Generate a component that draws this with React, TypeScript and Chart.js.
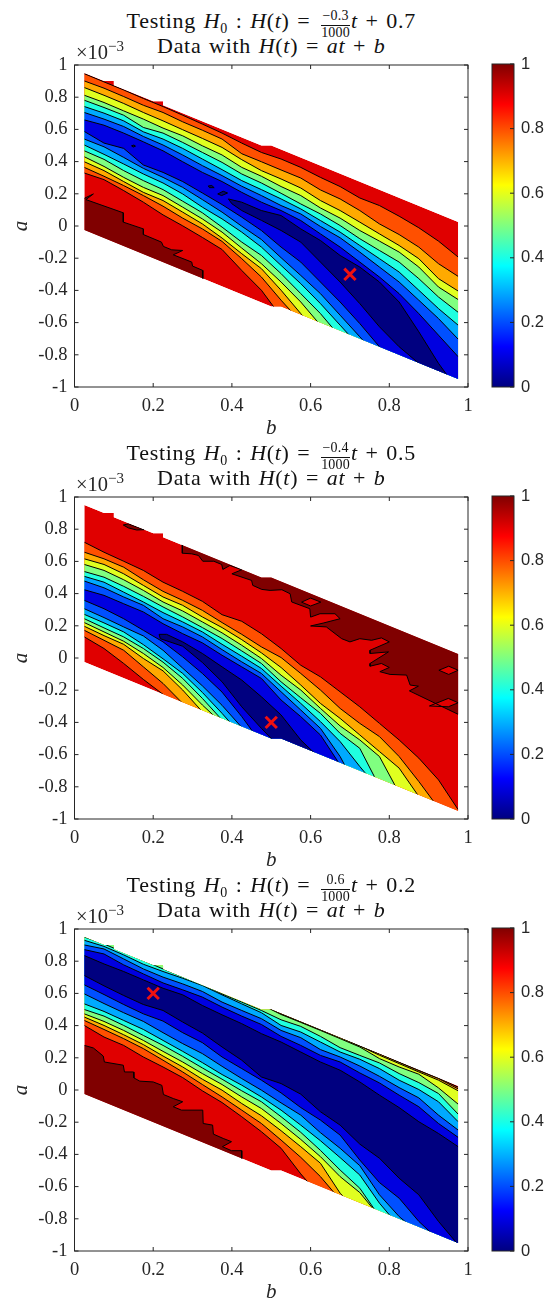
import React, { useEffect, useRef } from "react";
import { Chart, registerables } from "chart.js";

Chart.register(...registerables);

type P = { x: number; y: number };

const SERIF = '"Liberation Serif"';
const INK = "#262626";

// b grid the contour heights are read at
const bGrid = [0.025, 0.075, 0.125, 0.175, 0.225, 0.275, 0.325, 0.375, 0.425, 0.475, 0.525, 0.575, 0.625, 0.675, 0.725, 0.775, 0.825, 0.875, 0.925, 0.975];

// measured region outline (b, a in 1e-3)
const domain = [[0.025, 0.95], [0.075, 0.9], [0.1, 0.9], [0.1, 0.875], [0.2, 0.775], [0.225, 0.775], [0.225, 0.75], [0.475, 0.5], [0.5, 0.5], [0.975, 0.025], [0.975, -0.95], [0.525, -0.5], [0.5, -0.5], [0.025, -0.025]];

// contour levels 0.1 ... 0.9 and the band colours
const bandColors = ["#000080", "#0000e0", "#0050ff", "#00aaff", "#20ffe0", "#80ff80", "#e0ff20", "#ffaa00", "#ff5000"];
const redBand = "#e00000";
const darkRedBand = "#800000";
const jetStops = [[0, "#000080"], [0.125, "#0000ff"], [0.375, "#00ffff"], [0.625, "#ffff00"], [0.875, "#ff0000"], [1, "#800000"]];
const axisTicks = [0, 0.2, 0.4, 0.6, 0.8, 1];

// ---------- panel 1: H0 a=-0.3, b=0.7 ----------
const p1U1 = [[0.391, 0.168], [0.425, 0.148], [0.475, 0.096], [0.525, 0.065], [0.575, -0.018], [0.625, -0.09], [0.675, -0.183], [0.725, -0.255], [0.775, -0.348], [0.825, -0.472], [0.875, -0.657], [0.925, -0.853], [0.975, -1.02]];
const p1D1 = [[0.391, 0.168], [0.4, 0.138], [0.425, 0.096], [0.475, 0.035], [0.525, -0.028], [0.575, -0.1], [0.625, -0.224], [0.675, -0.348], [0.725, -0.482], [0.775, -0.626], [0.825, -0.75], [0.875, -0.853]];
const p1U2 = [0.659, 0.626, 0.577, 0.523, 0.467, 0.399, 0.333, 0.276, 0.209, 0.148, 0.096, 0.034, -0.049, -0.131, -0.224, -0.317, -0.42, -0.544, -0.678, -0.812];
const p1U3 = [0.705, 0.664, 0.618, 0.556, 0.503, 0.441, 0.375, 0.313, 0.247, 0.189, 0.127, 0.075, -0.003, -0.073, -0.162, -0.255, -0.348, -0.461, -0.575, -0.703];
const p1U4 = [0.742, 0.701, 0.653, 0.585, 0.54, 0.482, 0.416, 0.35, 0.282, 0.226, 0.168, 0.106, 0.034, -0.038, -0.121, -0.203, -0.286, -0.399, -0.513, -0.616];
const p1U5 = [0.781, 0.736, 0.688, 0.612, 0.577, 0.519, 0.457, 0.395, 0.323, 0.267, 0.203, 0.137, 0.075, 0.003, -0.079, -0.152, -0.224, -0.327, -0.441, -0.536];
const p1U6 = [0.812, 0.767, 0.715, 0.664, 0.608, 0.56, 0.498, 0.441, 0.364, 0.309, 0.245, 0.189, 0.112, 0.049, -0.028, -0.094, -0.162, -0.255, -0.379, -0.457];
const p1U7 = [0.86, 0.812, 0.761, 0.705, 0.653, 0.598, 0.544, 0.488, 0.412, 0.344, 0.292, 0.236, 0.158, 0.096, 0.024, -0.049, -0.121, -0.203, -0.327, -0.404];
const p1U8 = [0.901, 0.856, 0.804, 0.75, 0.705, 0.647, 0.595, 0.54, 0.449, 0.399, 0.348, 0.298, 0.224, 0.168, 0.096, 0.013, -0.053, -0.131, -0.234, -0.313];
const p1U9 = [0.946, 0.895, 0.845, 0.792, 0.742, 0.688, 0.633, 0.577, 0.515, 0.457, 0.416, 0.364, 0.302, 0.245, 0.174, 0.127, 0.061, -0.011, -0.094, -0.193];
const p1D2 = [0.587, 0.515, 0.482, 0.379, 0.333, 0.276, 0.205, 0.133, 0.055, -0.028, -0.131, -0.224, -0.348, -0.472, -0.606, -0.75];
const p1D3 = [0.54, 0.492, 0.426, 0.358, 0.302, 0.24, 0.164, 0.086, -0.001, -0.084, -0.197, -0.307, -0.42, -0.554, -0.688, -0.823];
const p1D4 = [0.503, 0.445, 0.385, 0.323, 0.267, 0.199, 0.117, 0.044, -0.038, -0.131, -0.245, -0.358, -0.482, -0.616, -0.75];
const p1D5 = [0.467, 0.414, 0.344, 0.282, 0.226, 0.154, 0.082, -0.007, -0.1, -0.183, -0.296, -0.42, -0.544, -0.688];
const p1D6 = [0.43, 0.37, 0.302, 0.24, 0.189, 0.117, 0.044, -0.038, -0.137, -0.234, -0.348, -0.472, -0.616];
const p1D7 = [0.399, 0.344, 0.276, 0.209, 0.158, 0.086, 0.013, -0.075, -0.172, -0.265, -0.399, -0.544, -0.688];
const p1D8 = [0.364, 0.309, 0.251, 0.189, 0.123, 0.049, -0.018, -0.096, -0.203, -0.317, -0.461, -0.595];
const p1D9 = [0.329, 0.288, 0.22, 0.148, 0.069, 0.001, -0.071, -0.146, -0.276, -0.399, -0.564];
const p1DarkRed = [[0.025, 0.172], [0.048, 0.199], [0.029, 0.164], [0.124, 0.082], [0.124, 0.024], [0.175, -0.018], [0.175, -0.053], [0.221, -0.1], [0.226, -0.127], [0.247, -0.148], [0.275, -0.152], [0.251, -0.179], [0.298, -0.224], [0.3, -0.249], [0.326, -0.276], [0.326, -0.36]];
const p1DarkRedClose = [[0.025, -0.6]];
const p1IslandA = [[0.364, 0.199], [0.378, 0.216], [0.389, 0.205], [0.374, 0.189], [0.364, 0.199]];
const p1IslandB = [[0.34, 0.249], [0.349, 0.251], [0.355, 0.238], [0.343, 0.238], [0.34, 0.249]];
const p1IslandC = [[0.145, 0.498], [0.151, 0.503], [0.155, 0.496], [0.149, 0.49], [0.145, 0.498]];

// ---------- panel 2: H0 a=-0.4, b=0.5 ----------
const p2U1 = [[0.215, 0.147], [0.234, 0.147], [0.275, 0.1], [0.325, 0.028], [0.375, -0.055], [0.425, -0.137], [0.475, -0.241], [0.525, -0.354], [0.575, -0.509], [0.603, -0.575], [0.625, -0.62]];
const p2D1 = [[0.215, 0.147], [0.218, 0.12], [0.275, 0.073], [0.325, -0.028], [0.375, -0.148], [0.425, -0.303], [0.475, -0.437], [0.5, -0.5], [0.525, -0.55]];
const p2U2 = [0.424, 0.389, 0.337, 0.286, 0.213, 0.151, 0.094, 0.017, -0.055, -0.127, -0.261, -0.364, -0.478, -0.664];
const p2U3 = [0.478, 0.436, 0.379, 0.327, 0.244, 0.193, 0.131, 0.052, -0.024, -0.096, -0.21, -0.323, -0.437, -0.612, -0.839];
const p2U4 = [0.507, 0.471, 0.409, 0.348, 0.282, 0.224, 0.162, 0.085, 0.011, -0.065, -0.175, -0.282, -0.395, -0.519, -0.674, -0.819];
const p2U5 = [0.537, 0.502, 0.445, 0.383, 0.317, 0.255, 0.189, 0.121, 0.044, -0.034, -0.148, -0.247, -0.344, -0.468, -0.561, -0.798];
const p2U6 = [0.581, 0.544, 0.486, 0.42, 0.348, 0.292, 0.224, 0.156, 0.079, -0.003, -0.107, -0.199, -0.313, -0.422, -0.509, -0.612, -0.839];
const p2U7 = [0.616, 0.581, 0.523, 0.451, 0.379, 0.327, 0.255, 0.189, 0.114, 0.032, -0.059, -0.168, -0.282, -0.375, -0.478, -0.581, -0.684, -0.86];
const p2U8 = [0.657, 0.616, 0.564, 0.486, 0.414, 0.358, 0.296, 0.22, 0.147, 0.069, 0.003, -0.096, -0.199, -0.313, -0.406, -0.488, -0.612, -0.767, -0.932];
const p2U9 = [0.719, 0.657, 0.601, 0.544, 0.471, 0.414, 0.352, 0.269, 0.228, 0.151, 0.059, -0.045, -0.117, -0.21, -0.303, -0.406, -0.509, -0.622, -0.757, -0.942];
const p2D2 = [0.358, 0.306, 0.244, 0.172, 0.1, 0.007, -0.096, -0.212, -0.364, -0.53];
const p2D3 = [0.306, 0.251, 0.193, 0.137, 0.048, -0.063, -0.173, -0.294, -0.431, -0.592];
const p2D4 = [0.271, 0.218, 0.162, 0.083, -0.005, -0.096, -0.214, -0.344, -0.482];
const p2D5 = [0.244, 0.187, 0.131, 0.059, -0.026, -0.127, -0.251, -0.385];
const p2D6 = [0.22, 0.162, 0.104, 0.028, -0.059, -0.168, -0.292, -0.406];
const p2D7 = [0.197, 0.139, 0.085, -0.003, -0.08, -0.199, -0.334];
const p2D8 = [0.172, 0.11, 0.048, -0.055, -0.158, -0.282];
const p2D9 = [0.131, 0.059, -0.034, -0.133, -0.226];
const p2DarkRed = [[0.274, 0.72], [0.274, 0.651], [0.298, 0.647], [0.315, 0.637], [0.326, 0.601], [0.354, 0.601], [0.374, 0.581], [0.377, 0.55], [0.395, 0.575], [0.425, 0.548], [0.4, 0.523], [0.45, 0.482], [0.453, 0.451], [0.476, 0.426], [0.497, 0.42], [0.527, 0.424], [0.548, 0.399], [0.552, 0.348], [0.598, 0.306], [0.6, 0.254], [0.624, 0.275], [0.662, 0.275], [0.675, 0.244], [0.632, 0.217], [0.6, 0.199], [0.64, 0.193], [0.679, 0.12], [0.7, 0.1], [0.725, 0.12], [0.755, 0.11], [0.78, 0.125], [0.8, 0.1], [0.751, 0.048], [0.751, 0.028], [0.798, 0.038], [0.751, -0.034], [0.751, -0.051], [0.78, -0.034], [0.8, -0.059], [0.776, -0.085], [0.802, -0.102], [0.844, -0.106], [0.853, -0.168], [0.874, -0.175], [0.851, -0.204], [0.975, -0.35]];
const p2DarkRedClose = [[1, -0.35], [1, 1], [0.274, 1]];
const p2DarkRedSmall = [[0.124, 0.826], [0.137, 0.833], [0.177, 0.797], [0.158, 0.795], [0.137, 0.808], [0.124, 0.826]];
const p2IslandA = [[0.577, 0.347], [0.6, 0.372], [0.626, 0.347], [0.6, 0.323], [0.577, 0.347]];
const p2IslandB = [[0.926, -0.076], [0.951, -0.051], [0.975, -0.076], [0.951, -0.102], [0.926, -0.076]];
const p2IslandC = [[0.902, -0.298], [0.95, -0.251], [0.975, -0.278], [0.95, -0.303], [0.902, -0.298]];

// ---------- panel 3: H0 a=0.6, b=0.2 ----------
const p3U1 = [0.835, 0.783, 0.736, 0.684, 0.632, 0.591, 0.525, 0.467, 0.412, 0.35, 0.298, 0.236, 0.174, 0.123, 0.05, -0.032, -0.109, -0.197, -0.27, -0.352];
const p3U2 = [0.872, 0.845, 0.777, 0.721, 0.665, 0.622, 0.577, 0.515, 0.459, 0.407, 0.333, 0.277, 0.215, 0.174, 0.106, 0.044, -0.032, -0.104, -0.208, -0.294];
const p3U3 = [0.901, 0.876, 0.814, 0.752, 0.701, 0.659, 0.612, 0.546, 0.494, 0.443, 0.37, 0.325, 0.251, 0.205, 0.149, 0.085, 0.015, -0.049, -0.156, -0.249];
const p3U4 = [0.93, 0.892, 0.839, 0.781, 0.736, 0.694, 0.649, 0.591, 0.535, 0.48, 0.401, 0.36, 0.298, 0.236, 0.191, 0.133, 0.061, 0.003, -0.073, -0.197];
const p3U5 = [0.95, 0.907, 0.855, 0.804, 0.752, 0.703, 0.657, 0.597, 0.546, 0.494, 0.436, 0.395, 0.333, 0.263, 0.215, 0.168, 0.102, 0.046, -0.022, -0.15];
const p3U6 = [0.53, 0.469, 0.42, 0.37, 0.319, 0.267, 0.195, 0.143, 0.098, 0.013, -0.088];
const p3U7 = [0.53, 0.473, 0.424, 0.374, 0.325, 0.273, 0.216, 0.164, 0.112, 0.061, -0.005];
const p3U8 = [0.53, 0.478, 0.428, 0.378, 0.329, 0.275, 0.224, 0.172, 0.12, 0.071, 0.007];
const p3U9 = [0.53, 0.478, 0.428, 0.378, 0.329, 0.277, 0.226, 0.174, 0.125, 0.075, 0.017];
const p3D1 = [0.711, 0.647, 0.587, 0.531, 0.494, 0.422, 0.354, 0.267, 0.185, 0.081, 0.04, -0.026, -0.135, -0.218, -0.336, -0.424, -0.548, -0.651, -0.816, -0.961];
const p3D2 = [0.653, 0.593, 0.531, 0.473, 0.428, 0.356, 0.294, 0.205, 0.133, 0.061, -0.018, -0.109, -0.187, -0.28, -0.435, -0.575, -0.672, -0.816, -0.93];
const p3D3 = [0.597, 0.537, 0.48, 0.426, 0.356, 0.288, 0.226, 0.147, 0.071, -0.001, -0.08, -0.156, -0.265, -0.362, -0.47, -0.651, -0.786, -0.889];
const p3D4 = [0.535, 0.488, 0.432, 0.376, 0.308, 0.24, 0.17, 0.096, 0.03, -0.043, -0.125, -0.218, -0.315, -0.42, -0.528, -0.703, -0.847];
const p3D5 = [0.5, 0.459, 0.401, 0.339, 0.277, 0.209, 0.137, 0.067, -0.005, -0.073, -0.166, -0.263, -0.375, -0.497, -0.61, -0.786];
const p3D6 = [0.473, 0.426, 0.37, 0.308, 0.24, 0.174, 0.102, 0.034, -0.043, -0.115, -0.208, -0.307, -0.414, -0.538, -0.637, -0.786];
const p3D7 = [0.453, 0.401, 0.343, 0.282, 0.211, 0.143, 0.067, -0.001, -0.084, -0.16, -0.253, -0.352, -0.455, -0.641, -0.765];
const p3D8 = [0.432, 0.376, 0.319, 0.257, 0.185, 0.112, 0.034, -0.043, -0.125, -0.208, -0.311, -0.418, -0.538, -0.682];
const p3D9 = [0.401, 0.329, 0.277, 0.205, 0.143, 0.077, -0.005, -0.078, -0.166, -0.259, -0.362, -0.521, -0.662];
const p3DarkRed = [[0.025, 0.277], [0.048, 0.261], [0.073, 0.211], [0.076, 0.174], [0.124, 0.154], [0.127, 0.112], [0.15, 0.112], [0.151, 0.075], [0.166, 0.055], [0.2, 0.05], [0.222, 0.029], [0.226, -0.028], [0.251, -0.053], [0.275, -0.073], [0.251, -0.104], [0.272, -0.125], [0.326, -0.125], [0.327, -0.208], [0.351, -0.218], [0.353, -0.274], [0.378, -0.301], [0.399, -0.321], [0.376, -0.352], [0.399, -0.377], [0.425, -0.377], [0.425, -0.45]];
const p3DarkRedClose = [[0.025, -0.7]];

const fromGrid = (as: number[], start = 0): P[] => as.map((a, i) => ({ x: bGrid[start + i], y: a }));
const fromPairs = (ps: number[][]): P[] => ps.map(([x, y]) => ({ x, y }));

type Panel = {
  top: number;
  target: number[];
  lowers: P[][];
  uppers: P[][];
  tip: boolean;
  under: { fill: string; pts: P[]; line: P[] }[];
  islands: { fill: string; line: P[] }[];
};

const closed = (ps: number[][], close: number[][], fill: string) => ({
  fill,
  pts: fromPairs([...ps, ...close]),
  line: fromPairs(ps),
});
const loop = (ps: number[][], fill: string) => ({ fill, line: fromPairs(ps) });

const panels: Panel[] = [
  {
    top: 64,
    target: [0.7, -0.3],
    tip: true,
    lowers: [fromPairs(p1D1), ...[p1D2, p1D3, p1D4, p1D5, p1D6, p1D7, p1D8, p1D9].map((d) => fromGrid(d))],
    uppers: [fromPairs(p1U1), ...[p1U2, p1U3, p1U4, p1U5, p1U6, p1U7, p1U8, p1U9].map((d) => fromGrid(d))],
    under: [closed(p1DarkRed, p1DarkRedClose, darkRedBand)],
    islands: [loop(p1IslandA, bandColors[0]), loop(p1IslandB, bandColors[0]), loop(p1IslandC, bandColors[0])],
  },
  {
    top: 496,
    target: [0.5, -0.4],
    tip: true,
    lowers: [fromPairs(p2D1), ...[p2D2, p2D3, p2D4, p2D5, p2D6, p2D7, p2D8, p2D9].map((d) => fromGrid(d))],
    uppers: [fromPairs(p2U1), ...[p2U2, p2U3, p2U4, p2U5, p2U6, p2U7, p2U8, p2U9].map((d) => fromGrid(d))],
    under: [
      closed(p2DarkRed, p2DarkRedClose, darkRedBand),
      { fill: darkRedBand, pts: fromPairs(p2DarkRedSmall), line: fromPairs(p2DarkRedSmall) },
      { fill: redBand, pts: fromPairs(p2IslandA), line: fromPairs(p2IslandA) },
      { fill: redBand, pts: fromPairs(p2IslandB), line: fromPairs(p2IslandB) },
      { fill: redBand, pts: fromPairs(p2IslandC), line: fromPairs(p2IslandC) },
    ],
    islands: [],
  },
  {
    top: 928.3,
    target: [0.2, 0.6],
    tip: false,
    lowers: [p3D1, p3D2, p3D3, p3D4, p3D5, p3D6, p3D7, p3D8, p3D9].map((d) => fromGrid(d)),
    uppers: [...[p3U1, p3U2, p3U3, p3U4, p3U5].map((d) => fromGrid(d)), ...[p3U6, p3U7, p3U8, p3U9].map((d) => fromGrid(d, 9))],
    under: [closed(p3DarkRed, p3DarkRedClose, darkRedBand)],
    islands: [],
  },
];

const PLOT_H = 323.2;
const PAD_TOP = 10;

const contourPlugin = {
  id: "contour",
  beforeDatasetsDraw(chart: any) {
    const { ctx, scales } = chart;
    const path = (pts: P[]) => {
      ctx.beginPath();
      pts.forEach((p, i) => {
        const x = scales.x.getPixelForValue(p.x);
        const y = scales.y.getPixelForValue(p.y);
        if (i === 0) ctx.moveTo(x, y);
        else ctx.lineTo(x, y);
      });
      ctx.closePath();
    };
    ctx.save();
    const fills = chart.data.datasets.filter((d: any) => d.regionFill);
    path(fills[0].data);
    ctx.clip();
    fills.forEach((d: any) => {
      path(d.data);
      ctx.fillStyle = d.regionFill;
      ctx.fill();
    });
  },
  afterDatasetsDraw(chart: any) {
    const { ctx, scales, chartArea: c } = chart;
    ctx.restore();
    ctx.save();
    ctx.strokeStyle = INK;
    ctx.lineWidth = 1;
    ctx.strokeRect(c.left, c.top, c.right - c.left, c.bottom - c.top);
    ctx.beginPath();
    axisTicks.forEach((t) => {
      const x = scales.x.getPixelForValue(t);
      ctx.moveTo(x, c.bottom);
      ctx.lineTo(x, c.bottom - 4);
      ctx.moveTo(x, c.top);
      ctx.lineTo(x, c.top + 4);
    });
    [-1, -0.8, -0.6, -0.4, -0.2, 0, 0.2, 0.4, 0.6, 0.8, 1].forEach((t) => {
      const y = scales.y.getPixelForValue(t);
      ctx.moveTo(c.left, y);
      ctx.lineTo(c.left + 4, y);
      ctx.moveTo(c.right, y);
      ctx.lineTo(c.right - 4, y);
    });
    ctx.stroke();
    ctx.restore();
  },
};

const barFramePlugin = {
  id: "barFrame",
  afterDatasetsDraw(chart: any) {
    const { ctx, scales, chartArea: c } = chart;
    ctx.save();
    ctx.strokeStyle = INK;
    ctx.lineWidth = 1;
    ctx.strokeRect(c.left, c.top, c.right - c.left, c.bottom - c.top);
    ctx.beginPath();
    axisTicks.forEach((t) => {
      const y = scales.y.getPixelForValue(t);
      ctx.moveTo(c.right, y);
      ctx.lineTo(c.right - 4, y);
    });
    ctx.stroke();
    ctx.restore();
  },
};

function buildDatasets(p: Panel) {
  const ds: any[] = [];
  const region = (data: P[], regionFill: string) => ds.push({ data, regionFill, showLine: false, pointRadius: 0 });
  const stroke = (data: P[]) =>
    ds.push({ data, showLine: true, borderColor: "#000", borderWidth: 1, pointRadius: 0, fill: false, tension: 0 });

  region(fromPairs(domain), redBand);
  p.under.forEach((u) => region(u.pts, u.fill));
  for (let k = 8; k >= 0; k--) {
    const isTip = p.tip && k === 0;
    const poly = isTip
      ? [...p.lowers[k], ...[...p.uppers[k]].reverse()]
      : [...p.lowers[k], { x: 0.975, y: -1.3 }, ...[...p.uppers[k]].reverse(), { x: 0.025, y: 1.3 }];
    region(poly, bandColors[k]);
  }
  p.islands.forEach((i) => region(i.line, i.fill));
  p.under.forEach((u) => stroke(u.line));
  p.islands.forEach((i) => stroke(i.line));
  p.lowers.forEach((l) => stroke(l));
  p.uppers.forEach((u) => stroke(u));
  ds.push({
    data: [{ x: p.target[0], y: p.target[1] }],
    showLine: false,
    pointStyle: "crossRot",
    pointRadius: 8,
    pointBorderWidth: 3,
    pointBorderColor: "#f01010",
    order: -1,
  });
  return ds;
}

function ContourPanel({ panel }: { panel: Panel }) {
  const ref = useRef<HTMLCanvasElement>(null);
  useEffect(() => {
    const chart = new Chart(ref.current!, {
      type: "scatter",
      data: { datasets: buildDatasets(panel) },
      plugins: [contourPlugin],
      options: {
        animation: false,
        responsive: false,
        events: [],
        layout: { padding: { top: PAD_TOP, right: 17, left: 0, bottom: 0 } },
        plugins: { legend: { display: false }, tooltip: { enabled: false } },
        scales: {
          x: {
            type: "linear",
            min: 0,
            max: 1,
            afterFit: (s: any) => {
              s.height = 55;
              s.paddingLeft = 0;
              s.paddingRight = 0;
            },
            grid: { display: false, drawTicks: false },
            border: { display: false },
            ticks: {
              stepSize: 0.2,
              autoSkip: false,
              maxRotation: 0,
              padding: 8,
              color: INK,
              font: { family: SERIF, size: 18.5 },
              callback: (v: any) => String(Math.round(Number(v) * 10) / 10),
            },
            title: { display: true, text: "b", color: INK, padding: { top: 0, bottom: 1 }, font: { family: SERIF, size: 21, style: "italic" } },
          },
          y: {
            type: "linear",
            min: -1,
            max: 1,
            afterFit: (s: any) => {
              s.width = 74.5;
              s.paddingTop = 0;
              s.paddingBottom = 0;
            },
            grid: { display: false, drawTicks: false },
            border: { display: false },
            ticks: {
              stepSize: 0.2,
              autoSkip: false,
              padding: 7,
              color: INK,
              font: { family: SERIF, size: 18.5 },
              callback: (v: any) => String(Math.round(Number(v) * 10) / 10),
            },
            title: { display: true, text: "a", color: INK, padding: { top: 9, bottom: 0 }, font: { family: SERIF, size: 21, style: "italic" } },
          },
        },
      },
    } as any);
    return () => chart.destroy();
  }, [panel]);
  return (
    <canvas
      ref={ref}
      width={485}
      height={PAD_TOP + PLOT_H + 55}
      style={{ position: "absolute", left: 0, top: panel.top - PAD_TOP, width: 485, height: PAD_TOP + PLOT_H + 55 }}
    />
  );
}

function ColorBar({ top }: { top: number }) {
  const ref = useRef<HTMLCanvasElement>(null);
  useEffect(() => {
    const chart = new Chart(ref.current!, {
      type: "bar",
      data: {
        labels: ["p"],
        datasets: [
          {
            data: [[0, 1]],
            barPercentage: 1,
            categoryPercentage: 1,
            backgroundColor: (ctx: any) => {
              const area = ctx.chart.chartArea;
              if (!area) return "#000080";
              const g = ctx.chart.ctx.createLinearGradient(0, area.bottom, 0, area.top);
              jetStops.forEach(([pos, col]) => g.addColorStop(pos as number, col as string));
              return g;
            },
          },
        ],
      },
      plugins: [barFramePlugin],
      options: {
        animation: false,
        responsive: false,
        events: [],
        layout: { padding: { top: PAD_TOP, bottom: 10, left: 12, right: 0 } },
        plugins: { legend: { display: false }, tooltip: { enabled: false } },
        scales: {
          x: { display: false },
          y: {
            position: "right",
            min: 0,
            max: 1,
            afterFit: (s: any) => {
              s.width = 30;
              s.paddingTop = 0;
              s.paddingBottom = 0;
            },
            grid: { display: false, drawTicks: false },
            border: { display: false },
            ticks: {
              stepSize: 0.2,
              padding: 7,
              color: INK,
              font: { family: '"Liberation Sans"', size: 16.5 },
              callback: (v: any) => String(Math.round(Number(v) * 10) / 10),
            },
          },
        },
      },
    } as any);
    return () => chart.destroy();
  }, [top]);
  return (
    <canvas
      ref={ref}
      width={64}
      height={PAD_TOP + PLOT_H + 10}
      style={{ position: "absolute", left: 480, top: top - PAD_TOP, width: 64, height: PAD_TOP + PLOT_H + 10 }}
    />
  );
}

const I = ({ children }: { children: React.ReactNode }) => <i>{children}</i>;

function Frac({ num }: { num: string }) {
  return (
    <span style={{ display: "inline-block", verticalAlign: "-9px", textAlign: "center", fontSize: 14, lineHeight: "14.5px", margin: "0 1px 0 3px", letterSpacing: 0.2 }}>
      <span style={{ display: "block", borderBottom: "0.8px solid #111", paddingBottom: 1 }}>{num}</span>
      <span style={{ display: "block" }}>1000</span>
    </span>
  );
}

const textLine = (top: number): React.CSSProperties => ({
  position: "absolute",
  left: 0,
  width: 542.5,
  top,
  textAlign: "center",
  whiteSpace: "nowrap",
  fontFamily: SERIF,
  fontSize: 22,
  lineHeight: "22px",
  color: "#111",
  letterSpacing: 0.7,
  wordSpacing: 1.5,
});

const titles = [
  { num: "\u22120.3", tail: "0.7" },
  { num: "\u22120.4", tail: "0.5" },
  { num: "0.6", tail: "0.2" },
];

export default function App() {
  return (
    <div style={{ position: "absolute", left: 0, top: 0, width: 544, height: 1304, background: "#fff", overflow: "hidden" }}>
      {panels.map((p, i) => (
        <React.Fragment key={i}>
          <div style={textLine(p.top - 37 - 18)}>
            Testing <I>H</I>
            <sub style={{ fontSize: 14, lineHeight: 0 }}>0</sub> : <I>H</I>(<I>t</I>) = <Frac num={titles[i].num} />
            <I>t</I> + {titles[i].tail}
          </div>
          <div style={textLine(p.top - 11 - 18)}>
            Data with <I>H</I>(<I>t</I>) = <I>at</I> + <I>b</I>
          </div>
          <ContourPanel panel={p} />
          <ColorBar top={p.top} />
          <div
            style={{
              position: "absolute",
              left: 76,
              top: p.top - 7 - 15.5,
              fontFamily: SERIF,
              fontSize: 20.5,
              lineHeight: "20px",
              color: INK,
              whiteSpace: "nowrap",
            }}
          >
            ×10<sup style={{ fontSize: 15, lineHeight: 0 }}>{"\u22123"}</sup>
          </div>
        </React.Fragment>
      ))}
    </div>
  );
}
